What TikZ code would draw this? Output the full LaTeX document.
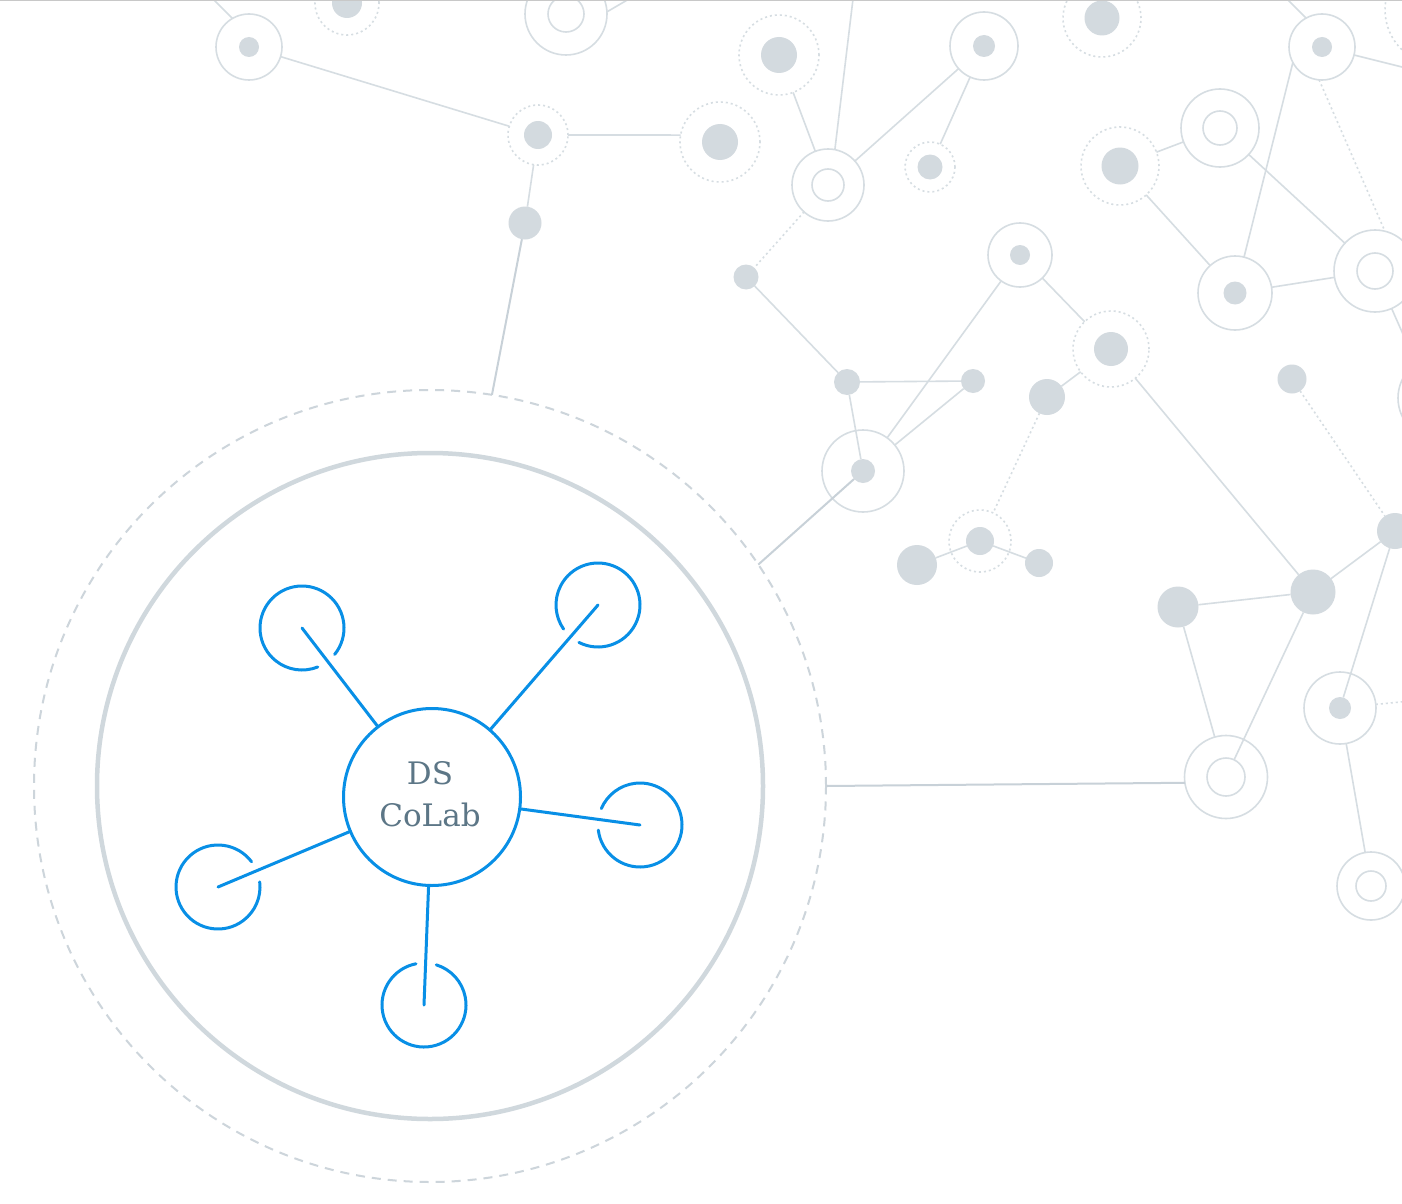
\documentclass[tikz,border=0pt]{standalone}
\usepackage{fontspec}
\setmainfont{DejaVu Serif}
\definecolor{netc}{RGB}{214,221,226}
\definecolor{dotc}{RGB}{211,218,223}
\definecolor{linkc}{RGB}{200,209,216}
\definecolor{haloc}{RGB}{205,213,219}
\definecolor{framec}{RGB}{208,216,221}
\definecolor{bluec}{RGB}{8,143,230}
\definecolor{textc}{RGB}{92,118,134}
\definecolor{topc}{RGB}{200,200,200}
\begin{document}
\begin{tikzpicture}[x=1pt,y=1pt,
  every node/.style={inner sep=0pt, outer sep=0pt},
  dotn/.style={circle, fill=dotc, minimum size=#1},
  ringn/.style={circle, draw=netc, line width=1.6pt, minimum size=#1},
  dring/.style={circle, draw=netc, line width=1.6pt, dash pattern=on 2pt off 3pt, minimum size=#1},
  net/.style={draw=netc, line width=1.6pt},
  netdot/.style={draw=netc, line width=1.6pt, dash pattern=on 2pt off 3pt},
  link/.style={draw=linkc, line width=2pt},
  spoke/.style={draw=bluec, line width=3pt, line cap=round},
  satring/.style={draw=bluec, line width=3pt, line cap=round},
]
\useasboundingbox (0,0) rectangle (1402,-1204);
\clip (0,0) rectangle (1402,-1204);
\fill[white] (0,0) rectangle (1402,-1204);

% ---------- background network nodes ----------
\node[ringn=66] (A) at (249,-47) {}; \node[dotn=20] (Ad) at (249,-47) {};
\node[dring=64] (E) at (347,-3) {}; \node[dotn=30] (Ed) at (347,-3) {};
\node[ringn=82] (F) at (566,-14) {}; \node[ringn=36] (Fi) at (566,-14) {};
\node[dring=60] (B) at (538,-135) {}; \node[dotn=28] (Bd) at (538,-135) {};
\node[dotn=33] (D) at (525,-223) {};
\node[dring=80] (C) at (720,-142) {}; \node[dotn=36] (Cd) at (720,-142) {};
\node[dring=80] (G) at (779,-55) {}; \node[dotn=36] (Gd) at (779,-55) {};
\node[ringn=72] (H) at (828,-185) {}; \node[ringn=32] (Hi) at (828,-185) {};
\node[ringn=68] (J) at (984,-46) {}; \node[dotn=22] (Jd) at (984,-46) {};
\node[dring=50] (L) at (930,-167) {}; \node[dotn=25] (Ld) at (930,-167) {};
\node[dotn=25] (K) at (746,-277) {};
\node[dotn=26] (M) at (847,-382) {};
\node[dotn=24] (N) at (973,-381) {};
\node[ringn=82] (O) at (863,-471) {}; \node[dotn=24] (Od) at (863,-471) {};
\node[ringn=64] (P) at (1020,-255) {}; \node[dotn=20] (Pd) at (1020,-255) {};
\node[dring=76] (Q) at (1111,-349) {}; \node[dotn=34] (Qd) at (1111,-349) {};
\node[dotn=36] (R) at (1047,-397) {};
\node[dring=62] (S) at (980,-541) {}; \node[dotn=28] (Sd) at (980,-541) {};
\node[dotn=40] (T) at (917,-565) {};
\node[dotn=28] (U) at (1039,-563) {};
\node[dring=78] (V) at (1102,-18) {}; \node[dotn=35] (Vd) at (1102,-18) {};
\node[ringn=66] (W) at (1322,-47) {}; \node[dotn=20] (Wd) at (1322,-47) {};
\node[ringn=78] (X) at (1220,-128) {}; \node[ringn=34] (Xi) at (1220,-128) {};
\node[dring=78] (AA) at (1120,-166) {}; \node[dotn=37] (AAd) at (1120,-166) {};
\node[ringn=74] (Z) at (1235,-293) {}; \node[dotn=23] (Zd) at (1235,-293) {};
\node[ringn=82] (Y) at (1375,-271) {}; \node[ringn=36] (Yi) at (1375,-271) {};
\node[dotn=29] (CC) at (1292,-379) {};
\node[dotn=45] (BB) at (1313,-592) {};
\node[dotn=36] (DD) at (1395,-531) {};
\node[dotn=41] (EE) at (1178,-607) {};
\node[ringn=83] (FF) at (1226,-777) {}; \node[ringn=38] (FFi) at (1226,-777) {};
\node[ringn=72] (GG) at (1340,-708) {}; \node[dotn=22] (GGd) at (1340,-708) {};
\node[ringn=68] (HH) at (1371,-886) {}; \node[ringn=30] (HHi) at (1371,-886) {};
\node[ringn=84] (II) at (1440,-398) {};
\node[dring=110] (JJ) at (1440,-10) {};

\coordinate (Aout) at (213,1);
\coordinate (Fout) at (629,1);
\coordinate (Hout) at (853,1);
\coordinate (Wout1) at (1287,1);
\coordinate (Wout2) at (1410,-69);
\coordinate (Yout) at (1410,-350);
\coordinate (GGout) at (1410,-701);

% ---------- background connectors ----------
\draw[net] (A.120) -- (Aout);
\draw[net] (A) -- (B);
\draw[net] (B.0) -- (C.170);
\draw[net] (B) -- (D);
\draw[net] (F.3) -- (Fout);
\draw[net] (G) -- (H);
\draw[net] (H.79) -- (Hout);
\draw[net] (H) -- (J);
\draw[net] (J) -- (L);
\draw[netdot] (H) -- (K);
\draw[net] (K) -- (M);
\draw[net] (M) -- (N);
\draw[net] (M) -- (Od);
\draw[net] (N) -- (O);
\draw[net] (O) -- (P);
\draw[net] (P) -- (Q);
\draw[net] (R) -- (Q);
\draw[netdot] (R) -- (S);
\draw[net] (T) -- (Sd);
\draw[net] (Sd) -- (U);
\draw[net] (Q) -- (BB);
\draw[netdot] (CC) -- (DD);
\draw[net] (BB) -- (DD);
\draw[net] (EE) -- (BB);
\draw[net] (EE) -- (FF);
\draw[net] (BB) -- (FFi);
\draw[net] (DD) -- (GGd);
\draw[net] (GG) -- (HH);
\draw[netdot] (GG) -- (GGout);
\draw[net] (W.119) -- (Wout1);
\draw[net] (W) -- (Wout2);
\draw[netdot] (W.265) -- (Y.76);
\draw[net] (W.208) -- (Z);
\draw[net] (X) -- (Y);
\draw[net] (X) -- (AA);
\draw[net] (AA) -- (Z);
\draw[net] (Z) -- (Y);
\draw[net] (Y) -- (Yout);

% ---------- halo and frame ----------
\node[circle, draw=haloc, line width=2pt, dash pattern=on 9pt off 7pt, minimum size=792] (halo) at (430,-786) {};
\node[circle, draw=framec, line width=4.5pt, minimum size=666] (frame) at (430,-786) {};
\draw[link] (D) -- (halo.81.3);
\draw[link] (Od) -- (halo.34);
\draw[link] (halo.0) -- (FF.188);

% ---------- hub and satellites ----------
\node[circle, draw=bluec, line width=3pt, minimum size=177] (hub) at (432,-797) {};
\node[text=textc, align=center, font=\fontsize{31}{42}\selectfont] (hublabel) at (430,-794) {DS\\CoLab};

\coordinate (s1) at (302,-628);
\coordinate (s2) at (598,-605);
\coordinate (s3) at (640,-825);
\coordinate (s4) at (218,-887);
\coordinate (s5) at (424,-1005);

\draw[spoke] (s1) -- (hub);
\draw[spoke] (s2) -- (hub);
\draw[spoke] (s3) -- (hub);
\draw[spoke] (s4) -- (hub);
\draw[spoke] (s5) -- (hub);

\draw[satring] ([shift={(-39:42)}]s1) arc[start angle=-39, end angle=292, radius=42];
\draw[satring] ([shift={(243:42)}]s2) arc[start angle=243, end angle=575, radius=42];
\draw[satring] ([shift={(187:42)}]s3) arc[start angle=187, end angle=517, radius=42];
\draw[satring] ([shift={(37:42)}]s4) arc[start angle=37, end angle=367, radius=42];
\draw[satring] ([shift={(101:42)}]s5) arc[start angle=101, end angle=433, radius=42];

% top border
\draw[topc, line width=1.5pt] (0,-0.75) -- (1402,-0.75);
\end{tikzpicture}
\end{document}
